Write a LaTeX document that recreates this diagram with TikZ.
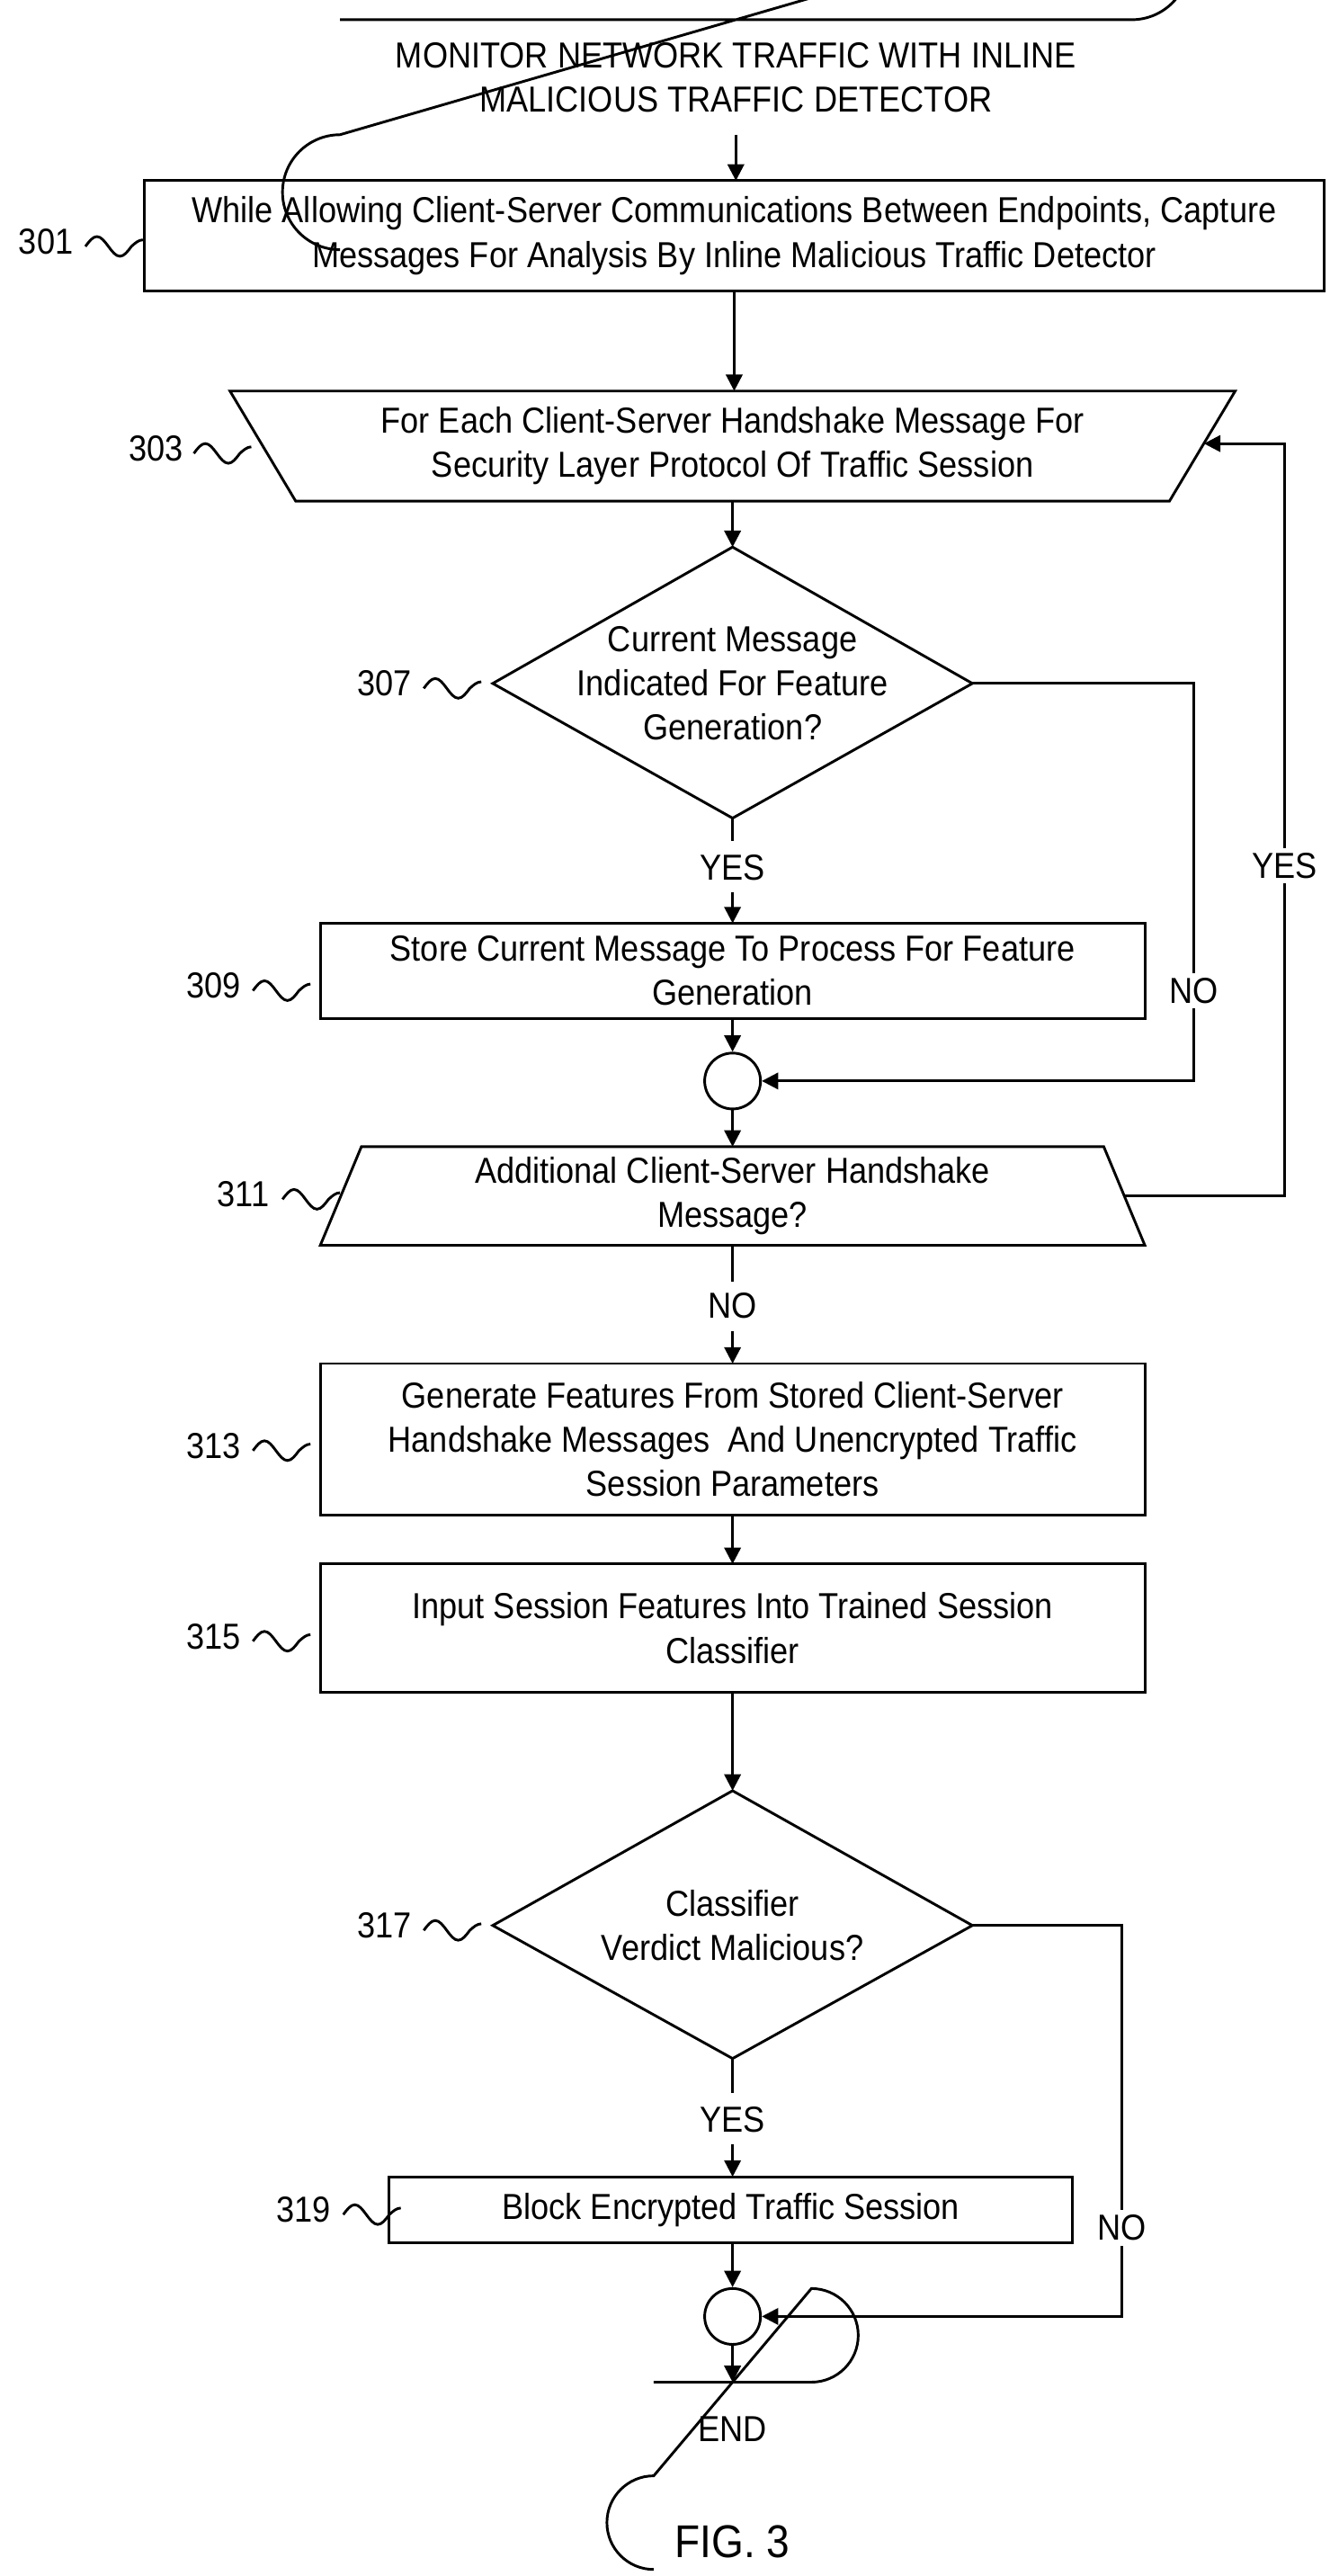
\documentclass[tikz,border=0pt]{standalone}
\usepackage{fontspec}
\setmainfont[FakeStretch=0.9]{Liberation Sans}
\usetikzlibrary{shapes.geometric,arrows.meta}
\begin{document}
\begin{tikzpicture}[x=0.5pt,y=-0.5pt,
  every node/.style={font=\fontsize{11}{13.5}\selectfont,align=center},
  ln/.style={line width=0.8pt},
  arr/.style={ln,-{Triangle[length=5pt,width=5pt]}},
  lbl/.style={fill=white,inner sep=1.5pt},
  circ/.style={circle,draw,line width=0.8pt,minimum size=17pt,inner sep=0pt}]
\useasboundingbox (0,0) rectangle (815,1568);
\newcommand{\squig}[1]{\draw[ln] (#1) sin ++(7,-6) cos ++(7,6) sin ++(7,6) cos ++(7,-6) sin ++(7,-4);}
% shapes
\draw[ln] (207,12) -- (689,12) arc(90:-90:35) -- (207,82) arc(270:90:35);
\node (start) at (448,47) {MONITOR NETWORK TRAFFIC WITH INLINE\\MALICIOUS TRAFFIC DETECTOR};
\coordinate (startb) at (448,82);
\draw[ln] (88,110) rectangle (806,177);
\node (b301) at (447,143.5) {While Allowing Client-Server Communications Between Endpoints, Capture\\Messages For Analysis By Inline Malicious Traffic Detector};
\draw[ln] (140,238) -- (752,238) -- (712,305) -- (180,305) -- cycle;
\node (b303) at (446,271.5) {For Each Client-Server Handshake Message For\\Security Layer Protocol Of Traffic Session};
\draw[ln] (446,333) -- (592,416) -- (446,498) -- (300,416) -- cycle;
\node (d307) at (446,416) {Current Message\\Indicated For Feature\\Generation?};
\draw[ln] (195,562) rectangle (697,620);
\node (b309) at (446,591) {Store Current Message To Process For Feature\\Generation};
\node[circ] (j1) at (446,658) {};
\draw[ln] (220,698) -- (672,698) -- (697,758) -- (195,758) -- cycle;
\node (b311) at (446,728) {Additional Client-Server Handshake\\Message?};
\draw[ln] (195,830) rectangle (697,922);
\node (b313) at (446,876) {Generate Features From Stored Client-Server\\Handshake Messages\ \ And Unencrypted Traffic\\Session Parameters};
\draw[ln] (195,952) rectangle (697,1030);
\node (b315) at (446,991) {Input Session Features Into Trained Session\\Classifier};
\draw[ln] (446,1090) -- (592,1172) -- (446,1253) -- (300,1172) -- cycle;
\node (d317) at (446,1172) {Classifier\\Verdict Malicious?};
\draw[ln] (237,1325) rectangle (653,1365);
\node (b319) at (445,1345) {Block Encrypted Traffic Session};
\node[circ] (j2) at (446,1410) {};
\draw[ln] (398,1450) -- (494,1450) arc(90:-90:28.5) -- (398,1507) arc(270:90:28.5);
\node (end) at (446,1478.5) {END};
\node[font=\fontsize{14}{16}\selectfont] (fig) at (446,1547) {FIG. 3};
% connectors
\draw[arr] (448,82) -- (448,110);
\draw[arr] (447,177) -- (447,238);
\draw[arr] (446,305) -- (446,333);
\draw[ln] (446,498) -- (446,512);
\node[lbl] (yes1) at (446,528) {YES};
\draw[arr] (446,543) -- (446,562);
\draw[arr] (446,620) -- (j1);
\draw[arr] (j1) -- (446,698);
\draw[arr] (592,416) -- (727,416) -- (727,658) -- (j1);
\node[lbl] (no1) at (727,603) {NO};
\draw[arr] (685,728) -- (782,728) -- (782,270) -- (733,270);
\node[lbl] (yes2) at (782,527) {YES};
\draw[ln] (446,758) -- (446,780);
\node[lbl] (no2) at (446,795) {NO};
\draw[arr] (446,810) -- (446,830);
\draw[arr] (446,922) -- (446,952);
\draw[arr] (446,1030) -- (446,1090);
\draw[ln] (446,1253) -- (446,1274);
\node[lbl] (yes3) at (446,1290) {YES};
\draw[arr] (446,1305) -- (446,1325);
\draw[arr] (446,1365) -- (j2);
\draw[arr] (592,1172) -- (683,1172) -- (683,1410) -- (j2);
\node[lbl] (no3) at (683,1356) {NO};
\draw[arr] (j2) -- (446,1450);
% reference labels
\node (r301) at (28,147) {301}; \squig{52,150}
\node (r303) at (95,273) {303}; \squig{118,276}
\node (r307) at (234,416) {307}; \squig{258,419}
\node (r309) at (130,600) {309}; \squig{154,603}
\node (r311) at (148,727) {311}; \squig{172,730}
\node (r313) at (130,880) {313}; \squig{154,883}
\node (r315) at (130,996) {315}; \squig{154,999}
\node (r317) at (234,1172) {317}; \squig{258,1175}
\node (r319) at (185,1345) {319}; \squig{209,1348}
\end{tikzpicture}
\end{document}
